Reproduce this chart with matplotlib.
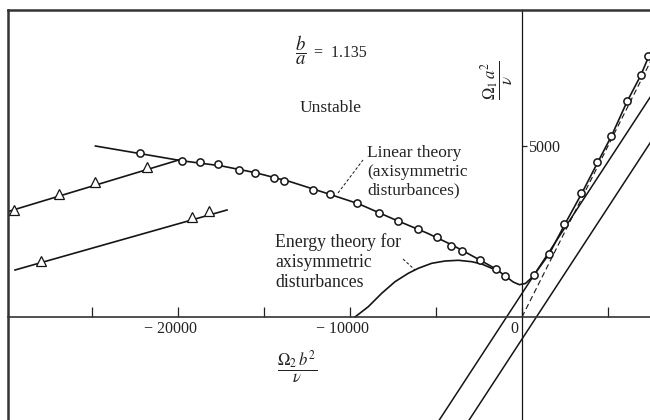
import matplotlib
matplotlib.use('Agg')
import matplotlib.pyplot as plt
import matplotlib.transforms as mtrans

plt.rcParams['font.family'] = ['Liberation Serif', 'DejaVu Serif']
plt.rcParams['mathtext.fontset'] = 'stix'

# ---------------- data ----------------
# Linear theory curve (axisymmetric disturbances)
linear_curve_x = [-24800, -22000, -19800, -17500, -15500, -13500, -11500, -9500, -7500,
                  -5500, -4000, -2500, -1500, -900, -500, -150, 200, 500, 800, 1600,
                  2500, 3500, 4400, 5200, 6100, 6900, 7400, 7800]
linear_curve_y = [5000, 4760, 4570, 4420, 4220, 3960, 3640, 3310, 2870,
                  2450, 2090, 1680, 1400, 1170, 1020, 945, 980, 1120, 1300, 1860,
                  2720, 3640, 4520, 5290, 6290, 7060, 7660, 8080]
# Circle data points
circle_x = [-22209, -19768, -18721, -17675, -16454, -15523, -14419, -13837, -12151,
            -11163, -9593, -8314, -7209, -6047, -4942, -4128, -3488, -2442, -1512,
            -988, 698, 1570, 2442, 3430, 4361, 5174, 6105, 6919, 7326]
circle_y = [4795, 4561, 4532, 4474, 4298, 4211, 4064, 3977, 3713,
            3597, 3333, 3041, 2807, 2573, 2339, 2076, 1930, 1667, 1404,
            1199, 1228, 1842, 2719, 3626, 4532, 5292, 6316, 7076, 7632]

# Energy theory for axisymmetric disturbances
energy_x = [-9709, -8936, -8157, -7384, -6611, -6030, -5251, -4477, -3703,
            -2924, -2343, -1762, -1512]
energy_y = [0, 301, 693, 1032, 1278, 1424, 1570, 1637, 1658,
            1617, 1550, 1424, 1395]

# Triangle series (upper)
tri_up_line_x = [-30500, -19900]
tri_up_line_y = [2990, 4600]
tri_up_x = [-29535, -26919, -24826, -21803]
tri_up_y = [3129, 3597, 3947, 4386]

# Triangle series (lower)
tri_lo_line_x = [-29477, -17151]
tri_lo_line_y = [1374, 3129]
tri_lo_x = [-27965, -19186, -18198]
tri_lo_y = [1637, 2924, 3099]

# Rayleigh line (dashed) and two straight solid lines
rayleigh_x = [0, 8000]
rayleigh_y = [0, 8000]
line1_x = [-5000, 10800]
line1_y = [-3160, 9006]
line2_x = [-3200, 12500]
line2_y = [-3109, 8980]

# leader lines
lin_leader_x = [-10698, -9244]
lin_leader_y = [3626, 4591]
en_leader_x = [-6919, -6221]
en_leader_y = [1696, 1374]

xticks = [-25000, -20000, -15000, -10000, -5000, 0, 5000]
xticklabels = ['', '\u2212 20000', '', '\u2212 10000', '', '0', '']
yticks = [5000]
yticklabels = ['5000']

# ---------------- figure ----------------
fig = plt.figure(figsize=(6.5, 4.2), dpi=100)
ax = fig.add_axes([8 / 650, 0, 642 / 650, 410 / 420])
ax.set_xlim(-29884, 7442)
ax.set_ylim(-3012, 8977)

ink = '#151515'
txt = '#222222'

ax.spines['top'].set_linewidth(1.8)
ax.spines['top'].set_color('#333333')
ax.spines['left'].set_linewidth(1.8)
ax.spines['left'].set_color('#333333')
ax.spines['bottom'].set_position(('data', 0))
ax.spines['bottom'].set_linewidth(1.2)
ax.spines['bottom'].set_color('#333333')
ax.spines['right'].set_position(('data', 0))
ax.spines['right'].set_linewidth(0.9)
ax.spines['right'].set_color(ink)

ax.set_xticks(xticks)
ax.set_xticklabels(xticklabels)
ax.tick_params(axis='x', direction='in', length=7.5, width=0.9, pad=3,
               labelsize=11.5, colors=txt)
ax.yaxis.tick_right()
ax.set_yticks(yticks)
ax.set_yticklabels(yticklabels)
ax.tick_params(axis='y', direction='out', length=3.5, width=0.9, pad=1,
               labelsize=11.5, colors=txt)

off = mtrans.ScaledTranslation(-8 / 100, 0, fig.dpi_scale_trans)
for lab in ax.get_xticklabels():
    lab.set_transform(lab.get_transform() + off)

# lines
ax.plot(line1_x, line1_y, color=ink, lw=1.1)
ax.plot(line2_x, line2_y, color=ink, lw=1.1)
ax.plot(rayleigh_x, rayleigh_y, color=ink, lw=0.8, ls=(0, (5, 3)))
ax.plot(linear_curve_x, linear_curve_y, color=ink, lw=1.2)
ax.plot(energy_x, energy_y, color=ink, lw=1.2)
ax.plot(tri_up_line_x, tri_up_line_y, color=ink, lw=1.2)
ax.plot(tri_lo_line_x, tri_lo_line_y, color=ink, lw=1.2)
ax.plot(circle_x, circle_y, ls='none', marker='o', ms=5.2, mfc='white',
        mec=ink, mew=1.1, zorder=4)
ax.plot(tri_up_x, tri_up_y, ls='none', marker='^', ms=6.5, mfc='white',
        mec=ink, mew=0.9, zorder=4)
ax.plot(tri_lo_x, tri_lo_y, ls='none', marker='^', ms=6.5, mfc='white',
        mec=ink, mew=0.9, zorder=4)
ax.plot(lin_leader_x, lin_leader_y, color=ink, lw=0.7, ls=(0, (3, 2)))
ax.plot(en_leader_x, en_leader_y, color=ink, lw=0.7, ls=(0, (3, 2)))

# texts
ax.text(-12850, 7807, r'$\dfrac{b}{a}$', fontsize=13.5, color=txt,
        ha='center', va='center')
ax.text(-12093, 7720, '=  1.135', fontsize=11.5, color=txt, ha='left', va='center')
ax.text(-12907, 6111, 'Unstable', fontsize=12.5, color=txt, ha='left', va='center')
ax.text(-9012, 4240, 'Linear theory\n(axisymmetric\ndisturbances)', fontsize=12.5,
        color=txt, ha='left', va='center', linespacing=1.24)
ax.text(-14361, 1608, 'Energy theory for\naxisymmetric\ndisturbances', fontsize=12.8,
        color=txt, ha='left', va='center', linespacing=1.2)
ax.text(-13082, -1462, r'$\dfrac{\Omega_2\, b^2}{\nu}$', fontsize=12, color=txt,
        ha='center', va='center')
ax.text(-1454, 6930, r'$\dfrac{\Omega_1\, a^2}{\nu}$', fontsize=12, color=txt,
        ha='center', va='center', rotation=90)

fig.savefig('out.png', dpi=100, facecolor='white')
